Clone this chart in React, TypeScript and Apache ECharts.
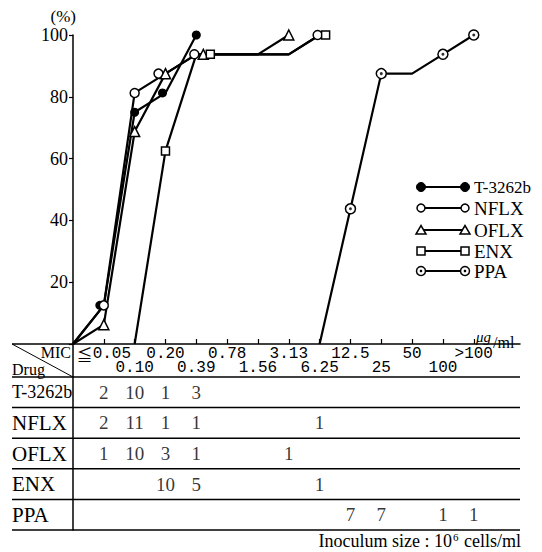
import React, { useEffect, useRef } from "react";
import * as echarts from "echarts";

// MIC categories (x index 1..13)
const MIC_LABELS = ["≦0.05", "0.10", "0.20", "0.39", "0.78", "1.56", "3.13", "6.25", "12.5", "25", "50", "100", ">100"];
const MIC_INDEX = [1, 2, 3, 4, 5, 6, 7, 8, 9, 10, 11, 12, 13];
const DRUGS = ["T-3262b", "NFLX", "OFLX", "ENX", "PPA"];

// Cumulative % inhibited, x = MIC index
const T3262B_X = [0, 1, 2, 3, 4];
const T3262B_Y = [0, 12.5, 75, 81.25, 100];
const NFLX_X = [0, 1, 2, 3, 4, 5, 6, 7, 8];
const NFLX_Y = [0, 12.5, 81.25, 87.5, 93.75, 93.75, 93.75, 93.75, 100];
const OFLX_X = [0, 1, 2, 3, 4, 5, 6, 7];
const OFLX_Y = [0, 6.25, 68.75, 87.5, 93.75, 93.75, 93.75, 100];
const ENX_X = [2, 3, 4, 5, 6, 7, 8];
const ENX_Y = [0, 62.5, 93.75, 93.75, 93.75, 93.75, 100];
const PPA_X = [8, 9, 10, 11, 12, 13];
const PPA_Y = [0, 43.75, 87.5, 87.5, 93.75, 100];

// Number of strains per MIC (table), index 1..13
const T3262B_COUNTS = [2, 10, 1, 3, null, null, null, null, null, null, null, null, null];
const NFLX_COUNTS = [2, 11, 1, 1, null, null, null, 1, null, null, null, null, null];
const OFLX_COUNTS = [1, 10, 3, 1, null, null, 1, null, null, null, null, null, null];
const ENX_COUNTS = [null, null, 10, 5, null, null, null, 1, null, null, null, null, null];
const PPA_COUNTS = [null, null, null, null, null, null, null, null, 7, 7, null, 1, 1];

const SERIF = "'Liberation Serif', 'DejaVu Serif', serif";
const MONO = "'Liberation Mono', 'DejaVu Sans Mono', 'Noto Sans CJK JP', monospace";

// marker horizontal shifts (style only, to avoid overlap)
const SHIFTS: Record<string, Record<number, number>> = {
  "T-3262b": { 1: -4, 3: -3 },
  NFLX: { 3: -7, 4: -2, 8: -2 },
  OFLX: { 4: 7 },
  ENX: { 4: 14, 8: 6 },
};

function buildData(name: string, xs: number[], ys: number[]) {
  return xs.map((x, i) => {
    const marked = ys[i] > 0 && (i === 0 || ys[i] !== ys[i - 1]);
    const shift = (SHIFTS[name] && SHIFTS[name][x]) || 0;
    return marked
      ? { value: [x, ys[i]], symbolOffset: [shift, 0] }
      : { value: [x, ys[i]], symbol: "none" };
  });
}

export default function App() {
  const ref = useRef<HTMLDivElement>(null);
  useEffect(() => {
    if (!ref.current) return;
    const chart = echarts.init(ref.current, undefined, { renderer: "svg" });

    const L = { left: 73, right: 520, top: 35, axisY: 344, tableTop: 377, tableBottom: 530, tableLeft: 12 };
    const rowH = (L.tableBottom - L.tableTop) / DRUGS.length;

    const openStyle = { color: "#fff", borderColor: "#000", borderWidth: 1.5 };
    const lineStyle = { color: "#000", width: 2.2 };

    const lineSeries = [
      { name: "T-3262b", xs: T3262B_X, ys: T3262B_Y, symbol: "circle", size: 9, item: { color: "#000" } },
      { name: "NFLX", xs: NFLX_X, ys: NFLX_Y, symbol: "circle", size: 9, item: openStyle },
      { name: "OFLX", xs: OFLX_X, ys: OFLX_Y, symbol: "triangle", size: 10, item: openStyle },
      { name: "ENX", xs: ENX_X, ys: ENX_Y, symbol: "rect", size: 8, item: openStyle },
      { name: "PPA", xs: PPA_X, ys: PPA_Y, symbol: "circle", size: 10, item: openStyle },
    ].map((s) => ({
      type: "line",
      name: s.name,
      xAxisIndex: 0,
      yAxisIndex: 0,
      data: buildData(s.name, s.xs, s.ys),
      symbol: s.symbol,
      symbolSize: s.size,
      showAllSymbol: true,
      itemStyle: s.item,
      lineStyle,
      silent: true,
    }));

    const ppaDots = {
      type: "scatter",
      xAxisIndex: 0,
      yAxisIndex: 0,
      z: 5,
      symbol: "circle",
      symbolSize: 3,
      itemStyle: { color: "#000" },
      data: PPA_X.map((x, i) => [x, PPA_Y[i]]).filter((p, i) => PPA_Y[i] > 0 && PPA_Y[i] !== PPA_Y[i - 1]),
      silent: true,
    };

    const allCounts = [T3262B_COUNTS, NFLX_COUNTS, OFLX_COUNTS, ENX_COUNTS, PPA_COUNTS];
    const tableData: any[] = [];
    allCounts.forEach((arr, d) => {
      arr.forEach((c, i) => {
        if (c != null) tableData.push([MIC_INDEX[i], DRUGS[d], c]);
      });
    });
    const tableSeries = {
      type: "scatter",
      xAxisIndex: 2,
      yAxisIndex: 1,
      symbolSize: 1,
      itemStyle: { color: "rgba(0,0,0,0)" },
      data: tableData,
      label: {
        show: true,
        position: "inside",
        formatter: (p: any) => String(p.value[2]),
        fontFamily: SERIF,
        fontSize: 19,
        color: "#000",
      },
      silent: true,
    };

    const hLine = (y: number) => ({
      type: "line",
      shape: { x1: L.tableLeft, y1: y, x2: L.right, y2: y },
      style: { stroke: "#000", lineWidth: 1.5 },
    });

    const graphic: any[] = [
      { type: "line", shape: { x1: L.tableLeft, y1: L.axisY, x2: L.left, y2: L.axisY }, style: { stroke: "#000", lineWidth: 1.5 } },
      { type: "line", shape: { x1: L.tableLeft, y1: L.axisY, x2: L.left, y2: L.tableTop }, style: { stroke: "#000", lineWidth: 1 } },
      { type: "line", shape: { x1: L.left, y1: L.axisY, x2: L.left, y2: L.tableTop }, style: { stroke: "#000", lineWidth: 1.5 } },
      ...[0, 1, 2, 3, 4, 5].map((k) => hLine(L.tableTop + k * rowH)),
      { type: "text", x: 71, y: 352, style: { text: "MIC", fontFamily: SERIF, fontSize: 16, fill: "#000", align: "right", verticalAlign: "middle" } },
      { type: "text", x: 12, y: 369, style: { text: "Drug", fontFamily: SERIF, fontSize: 16, fill: "#000", align: "left", verticalAlign: "middle" } },
      { type: "text", x: 76, y: 16, style: { text: "(%)", fontFamily: SERIF, fontSize: 17, fill: "#000", align: "right", verticalAlign: "middle" } },
      { type: "text", x: 476, y: 337, style: { text: "μg", fontFamily: SERIF, fontStyle: "italic", fontSize: 15, fill: "#000", align: "left", verticalAlign: "middle" } },
      { type: "text", x: 493, y: 342, style: { text: "/ml", fontFamily: SERIF, fontSize: 16, fill: "#000", align: "left", verticalAlign: "middle" } },
      {
        type: "text",
        x: 521,
        y: 541,
        style: {
          text: "{a|Inoculum size : 10}{b|6}{a| cells/ml}",
          align: "right",
          verticalAlign: "middle",
          fill: "#000",
          rich: {
            a: { fontFamily: SERIF, fontSize: 18, fill: "#000" },
            b: { fontFamily: SERIF, fontSize: 11, fill: "#000", padding: [0, 1, 9, 1] },
          },
        },
      },
    ];

    // legend
    const legY = [187, 208, 230, 251, 271];
    const lx1 = 421, lx2 = 465;
    const sym = (kind: string, cx: number, cy: number): any[] => {
      const st = { fill: "#fff", stroke: "#000", lineWidth: 1.5 };
      if (kind === "filled") return [{ type: "circle", shape: { cx, cy, r: 4.5 }, style: { fill: "#000", stroke: "#000" } }];
      if (kind === "circle") return [{ type: "circle", shape: { cx, cy, r: 4 }, style: st }];
      if (kind === "triangle") return [{ type: "polygon", shape: { points: [[cx - 5, cy + 4], [cx + 5, cy + 4], [cx, cy - 4.5]] }, style: st }];
      if (kind === "rect") return [{ type: "rect", shape: { x: cx - 4, y: cy - 4, width: 8, height: 8 }, style: st }];
      return [
        { type: "circle", shape: { cx, cy, r: 4.5 }, style: st },
        { type: "circle", shape: { cx, cy, r: 1.3 }, style: { fill: "#000" } },
      ];
    };
    const kinds = ["filled", "circle", "triangle", "rect", "dot"];
    DRUGS.forEach((d, i) => {
      const y = legY[i];
      graphic.push({ type: "line", shape: { x1: lx1, y1: y, x2: lx2, y2: y }, style: { stroke: "#000", lineWidth: 2 } });
      graphic.push(...sym(kinds[i], lx1, y), ...sym(kinds[i], lx2, y));
      graphic.push({ type: "text", x: 474, y, style: { text: d, fontFamily: SERIF, fontSize: d === "T-3262b" ? 17 : 19, fill: "#000", align: "left", verticalAlign: "middle" } });
    });

    const TOP_ROW = MIC_INDEX.filter((v) => v % 2 === 1);
    const BOTTOM_ROW = MIC_INDEX.filter((v) => v % 2 === 0);
    const micLabel = (v: number) => {
      const i = Math.round(v) - 1;
      if (i < 0 || i >= MIC_LABELS.length) return "";
      const t = MIC_LABELS[i];
      return t.startsWith("≦") ? "{le|≦}" + t.slice(1) : t;
    };
    const labelBase = {
      fontFamily: MONO,
      fontSize: 16,
      color: "#000",
      showMinLabel: true,
      showMaxLabel: true,
      hideOverlap: false,
      formatter: micLabel,
      rich: { le: { fontFamily: "'Noto Sans CJK JP', sans-serif", fontSize: 16, color: "#000" } },
    };

    chart.setOption({
      animation: false,
      backgroundColor: "#fff",
      grid: [
        { left: L.left, top: L.top, width: L.right - L.left, height: L.axisY - L.top },
        { left: L.left, top: L.tableTop, width: L.right - L.left, height: L.tableBottom - L.tableTop },
      ],
      xAxis: [
        {
          type: "value",
          gridIndex: 0,
          position: "bottom",
          min: 0,
          max: 14.5,
          interval: 1,
          axisLine: { show: true, onZero: false, lineStyle: { color: "#000", width: 1.5 } },
          axisTick: { show: true, inside: true, length: 5, customValues: MIC_INDEX, lineStyle: { color: "#000", width: 1.2 } },
          axisLabel: { ...labelBase, customValues: TOP_ROW, margin: 2 },
          splitLine: { show: false },
        },
        {
          type: "value",
          gridIndex: 0,
          position: "bottom",
          offset: 0,
          min: 0,
          max: 14.5,
          interval: 1,
          axisLine: { show: false, onZero: false },
          axisTick: { show: false },
          axisLabel: { ...labelBase, customValues: BOTTOM_ROW, margin: 16 },
          splitLine: { show: false },
        },
        { type: "value", gridIndex: 1, min: 0, max: 14.5, show: false },
      ],
      yAxis: [
        {
          type: "value",
          gridIndex: 0,
          min: 0,
          max: 100,
          interval: 20,
          axisLine: { show: true, lineStyle: { color: "#000", width: 1.5 } },
          axisTick: { show: true, length: 4, lineStyle: { color: "#000", width: 1.2 } },
          axisLabel: {
            formatter: (v: number) => (v === 0 ? "" : String(v)),
            fontFamily: SERIF,
            fontSize: 18,
            color: "#000",
            margin: 5,
          },
          splitLine: { show: false },
        },
        {
          type: "category",
          gridIndex: 1,
          data: DRUGS,
          inverse: true,
          axisLine: { show: true, lineStyle: { color: "#000", width: 1.5 } },
          axisTick: { show: false },
          axisLabel: {
            align: "left",
            margin: L.left - L.tableLeft,
            fontFamily: SERIF,
            fontSize: 21,
            color: "#000",
            formatter: (v: string) => (v === "T-3262b" ? "{s|" + v + "}" : v),
            rich: { s: { fontFamily: SERIF, fontSize: 18, color: "#000" } },
          },
          splitLine: { show: false },
        },
      ],
      series: [...lineSeries, ppaDots, tableSeries],
      graphic,
    } as any);

    return () => chart.dispose();
  }, []);

  return <div ref={ref} style={{ position: "absolute", left: 0, top: 0, width: 542, height: 552 }} />;
}
